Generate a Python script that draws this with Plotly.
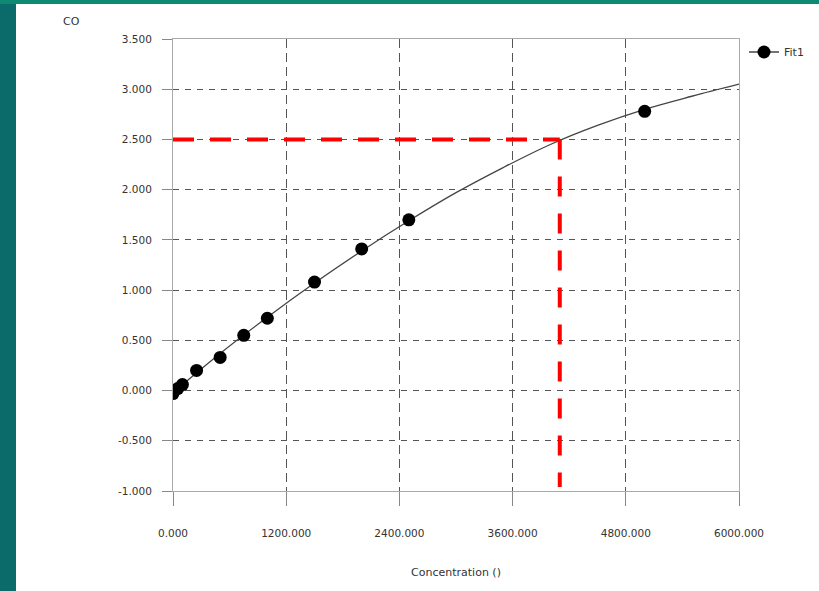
import plotly.graph_objects as go

# ---- data ----
conc = [0, 50, 100, 250, 500, 750, 1000, 1500, 2000, 2500, 5000]
od = [-0.03, 0.02, 0.06, 0.20, 0.33, 0.55, 0.72, 1.08, 1.41, 1.70, 2.78]

fit_x = [0, 500, 1000, 1500, 2000, 2500, 3000, 3500, 4000, 4500, 5000, 5500, 6000]
fit_y = [-0.02, 0.37, 0.73, 1.07, 1.39, 1.69, 1.97, 2.22, 2.45, 2.64, 2.80, 2.93, 3.05]

read_x = 4100      # concentration
read_y = 2.5       # OD value
read_ymin = -0.96  # bottom end of the red guide

x_ticks = [0, 1200, 2400, 3600, 4800, 6000]
x_tick_labels = ["0.000", "1200.000", "2400.000", "3600.000", "4800.000", "6000.000"]
y_ticks = [-1.0, -0.5, 0.0, 0.5, 1.0, 1.5, 2.0, 2.5, 3.0, 3.5]
y_tick_labels = ["-1.000", "-0.500", "0.000", "0.500", "1.000", "1.500",
                 "2.000", "2.500", "3.000", "3.500"]

W, H = 819, 591
L, R, T, B = 173, 80, 39, 100
pw, ph = W - L - R, H - T - B

def px_x(p):
    return (p - L) / pw

def px_y(p):
    return (H - B - p) / ph

TXT = dict(family="DejaVu Sans", size=10.5, color="#333333")

fig = go.Figure()
# fitted curve
fig.add_trace(go.Scatter(
    x=fit_x, y=fit_y, mode="lines", line=dict(color="#444444", width=1.3, shape="spline"),
    showlegend=False, hoverinfo="skip"))
# standards
fig.add_trace(go.Scatter(
    x=conc, y=od, mode="markers", name="Fit1",
    marker=dict(color="black", size=13), showlegend=False))
# legend entry (line + marker)
fig.add_trace(go.Scatter(x=[None], y=[None], mode="lines+markers", name="Fit1",
                         line=dict(color="#444444", width=1.3),
                         marker=dict(color="black", size=13), showlegend=True))

# red guide lines
fig.add_shape(type="line", xref="x", yref="y", x0=0, x1=read_x, y0=read_y, y1=read_y,
              line=dict(color="#ff0000", width=4, dash="21px,16px"))
fig.add_shape(type="line", xref="x", yref="y", x0=read_x, x1=read_x, y0=read_y, y1=read_ymin,
              line=dict(color="#ff0000", width=4, dash="20px,17px"))

# teal frame strips
fig.add_shape(type="rect", xref="paper", yref="paper", layer="above",
              x0=px_x(0), x1=px_x(16), y0=px_y(H), y1=px_y(0),
              line=dict(width=0), fillcolor="#0b6b6a")
fig.add_shape(type="rect", xref="paper", yref="paper", layer="above",
              x0=px_x(0), x1=px_x(W), y0=px_y(4), y1=px_y(0),
              line=dict(width=0), fillcolor="#0e8a73")

fig.add_annotation(text="CO", xref="paper", yref="paper", x=px_x(71), y=px_y(21),
                   xanchor="center", yanchor="middle",
                   showarrow=False, font=dict(family="DejaVu Sans", size=11, color="#333333"))

fig.update_layout(
    width=W, height=H,
    margin=dict(l=L, r=R, t=T, b=B, autoexpand=False),
    paper_bgcolor="white", plot_bgcolor="white",
    font=TXT,
    legend=dict(x=px_x(744), y=px_y(52), xanchor="left", yanchor="middle",
                bgcolor="rgba(0,0,0,0)", font=dict(family="DejaVu Sans", size=11, color="#333333"),
                itemwidth=30),
)
fig.update_xaxes(
    range=[0, 6000], tickvals=x_ticks, ticktext=x_tick_labels,
    showgrid=True, gridcolor="#555555", griddash="9px,5px", gridwidth=1,
    showline=True, linecolor="#aaaaaa", linewidth=1, mirror=True,
    ticks="outside", ticklen=14, tickcolor="#888888", zeroline=False,
    ticklabelstandoff=18, automargin=False,
    title=dict(text="Concentration ()", font=dict(family="DejaVu Sans", size=11, color="#333333"),
               standoff=30),
)
fig.update_yaxes(
    range=[-1, 3.5], tickvals=y_ticks, ticktext=y_tick_labels,
    showgrid=True, gridcolor="#555555", griddash="6px,6px", gridwidth=1,
    showline=True, linecolor="#aaaaaa", linewidth=1, mirror=True,
    ticks="outside", ticklen=10, tickcolor="#888888", zeroline=False,
    ticklabelstandoff=8, automargin=False,
)

fig.write_html("out.html", config={"displayModeBar": False},
               post_script="document.body.style.margin='0';document.body.style.overflow='hidden';")
